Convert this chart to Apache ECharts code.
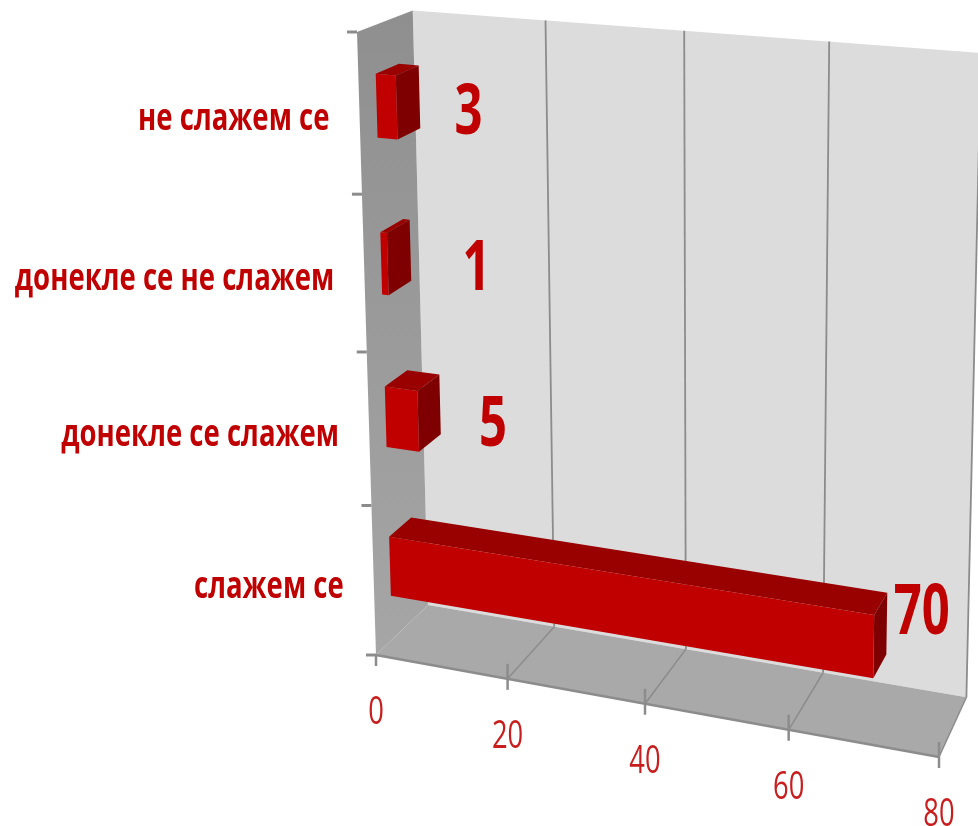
<!DOCTYPE html>
<html>
<head>
<meta charset="utf-8">
<style>html,body{margin:0;padding:0;background:#fff}#main{width:978px;height:826px}</style>
<script src="https://cdn.jsdelivr.net/npm/echarts@6/dist/echarts.min.js"></script>
</head>
<body>
<div id="main"></div>
<script>
// podaci, odozdo nagore
var categories = ['слажем се', 'донекле се слажем', 'донекле се не слажем', 'не слажем се'];
var values = [70, 5, 1, 3];
var xTicks = [0, 20, 40, 60, 80];

// rucno pomereni natpisi vrednosti [dx, dy]
var labelShift = [[35, -10], [53, 22], [66, 20], [49, 17]];

var RED = '#c00000';
var FONT = '"Open Sans"';

// perspektiva: t = vrednost, h = visina, d = dubina (sve 0..1)
var O = [376, 655], PX = [939, 757], PY = [357, 32], PZ = [428, 605];
var cx = -0.085, cy = -0.053, cz = 0.05;
function project(t, h, d) {
	var w = 1 + cx * t + cy * h + cz * d;
	return [0, 1].map(function (i) {
		return (O[i]
			+ t * (PX[i] * (1 + cx) - O[i])
			+ h * (PY[i] * (1 + cy) - O[i])
			+ d * (PZ[i] * (1 + cz) - O[i])) / w;
	});
}

// pozicija iz ose echartsa -> t, h
function norm(params, api, v, c) {
	var cs = params.coordSys;
	var p = api.coord([v, c]);
	return [(p[0] - cs.x) / cs.width, (cs.y + cs.height - p[1]) / cs.height];
}

function poly(points, fill) {
	return { type: 'polygon', shape: { points: points }, style: { fill: fill } };
}
function line(a, b, width) {
	return {
		type: 'line',
		shape: { x1: a[0], y1: a[1], x2: b[0], y2: b[1] },
		style: { stroke: '#8c8c8c', lineWidth: width }
	};
}
function label(pos, text, size, weight, scaleX, align, fill) {
	return {
		type: 'text', x: pos[0], y: pos[1], scaleX: scaleX,
		style: {
			text: text, fill: fill, align: align, verticalAlign: 'middle',
			font: weight + ' ' + size + 'px ' + FONT
		}
	};
}

function renderWalls() {
	var leftWall = new echarts.graphic.LinearGradient(0, 0, 0, 1, [
		{ offset: 0, color: '#8f8f8f' }, { offset: 1, color: '#a6a6a6' }
	]);
	return {
		type: 'group',
		children: [
			poly([project(0, 0, 1), project(1, 0, 1), project(1, 1, 1), project(0, 1, 1)], '#dcdcdc'),
			poly([project(0, 0, 0), project(0, 0, 1), project(0, 1, 1), project(0, 1, 0)], leftWall),
			poly([project(0, 0, 0), project(1, 0, 0), project(1, 0, 1), project(0, 0, 1)], '#a9a9a9'),
			line(project(0, 0, 0), project(1, 0, 0), 2.5)
		]
	};
}

function renderXTick(params, api) {
	var t = norm(params, api, api.value(0), 0)[0];
	var front = project(t, 0, 0);
	var children = [
		line([front[0], front[1] + (t > 0 ? -15 : 0)], [front[0], front[1] + 11], 2.5),
		label([front[0], front[1] + 58], String(api.value(0)), 38, 'normal', 0.72, 'center', '#c81e1e')
	];
	if (t > 0) {
		children.push(line(front, project(t, 0, 1), 1.5));
		children.push(line(project(t, 0, 1), project(t, 1, 1), 1.8));
	}
	return { type: 'group', children: children };
}

// podeok ispod svake kategorije, poslednja dobija i gornji
function renderYTick(params, api) {
	var i = api.value(0);
	var band = api.size([0, 1])[1] / params.coordSys.height;
	var hc = norm(params, api, 0, i)[1];
	var children = [];
	[hc - band / 2].concat(i === categories.length - 1 ? [hc + band / 2] : []).forEach(function (h) {
		var p = project(0, h, 0);
		children.push(line([p[0] - 10, p[1]], p, 3));
	});
	return { type: 'group', children: children };
}

function renderBar(params, api) {
	var i = api.value(1);
	var n = norm(params, api, api.value(0), i);
	var band = api.size([0, 1])[1] / params.coordSys.height;
	var t = n[0], hc = n[1];
	var h0 = hc - band * 0.2, h1 = hc + band * 0.2;
	var d0 = 0.3, d1 = 0.72;
	var anchor = project(t, hc, d1);
	var shift = labelShift[i];
	return {
		type: 'group',
		children: [
			poly([project(0, h1, d0), project(t, h1, d0), project(t, h1, d1), project(0, h1, d1)], '#990000'),
			poly([project(t, h0, d0), project(t, h0, d1), project(t, h1, d1), project(t, h1, d0)], '#7f0000'),
			poly([project(0, h0, d0), project(t, h0, d0), project(t, h1, d0), project(0, h1, d0)], RED),
			label([anchor[0] + shift[0], anchor[1] + shift[1]], String(api.value(0)), 70, 'bold', 0.7, 'center', RED)
		]
	};
}

function renderCategory(params, api) {
	var n = norm(params, api, 0, api.value(0));
	var p = project(0, n[1], 0);
	return label([p[0] - 30, p[1] + 6], categories[api.value(0)], 38, 'bold', 0.725, 'right', RED);
}

var rows = categories.map(function (c, i) { return [i]; });

var myChart = echarts.init(document.getElementById('main'));
myChart.setOption({
	animation: false,
	backgroundColor: '#fff',
	grid: { left: 0, right: 0, top: 0, bottom: 0 },
	xAxis: { type: 'value', min: 0, max: 80, interval: 20, show: false },
	yAxis: { type: 'category', data: categories, show: false },
	series: [
		{ type: 'custom', renderItem: renderWalls, data: [[0, 0]], encode: { x: 0, y: 1 }, silent: true, z: 1 },
		{ type: 'custom', renderItem: renderXTick, data: xTicks.map(function (v) { return [v, 0]; }), encode: { x: 0, y: 1 }, silent: true, z: 2 },
		{ type: 'custom', renderItem: renderYTick, data: rows, encode: { y: 0 }, silent: true, z: 2 },
		{ type: 'custom', renderItem: renderBar, data: values.map(function (v, i) { return [v, i]; }), encode: { x: 0, y: 1 }, z: 3 },
		{ type: 'custom', renderItem: renderCategory, data: rows, encode: { y: 0 }, silent: true, z: 3 }
	]
});
</script>
</body>
</html>
